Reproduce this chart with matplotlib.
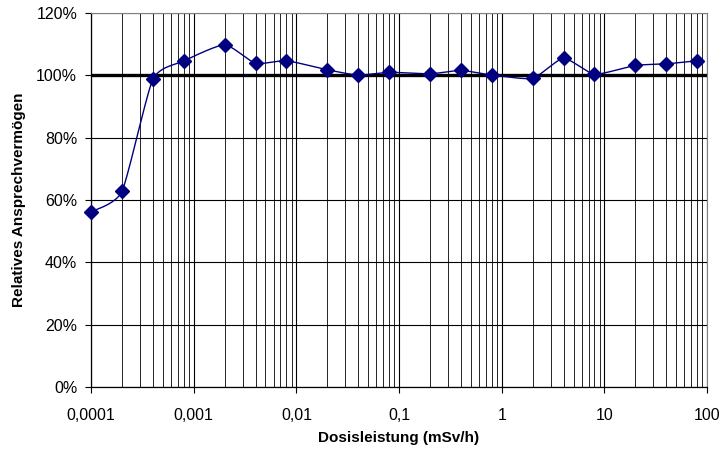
import numpy as np
import matplotlib
matplotlib.use("Agg")
import matplotlib.pyplot as plt
from matplotlib.ticker import FixedLocator, FixedFormatter, LogLocator, NullFormatter

plt.rcParams['font.family'] = ['Liberation Sans', 'DejaVu Sans']

# Dose rate (mSv/h) and relative response (%)
dose_rate = [0.0001, 0.0002, 0.0004, 0.0008, 0.002, 0.004, 0.008, 0.02, 0.04,
             0.08, 0.2, 0.4, 0.8, 2, 4, 8, 20, 40, 80]
response = [56.2, 62.8, 98.7, 104.6, 109.8, 103.9, 104.7, 101.8, 100.1,
            101.0, 100.5, 101.6, 100.1, 99.1, 105.5, 100.4, 103.2, 103.7, 104.7]

x_ticks = [0.0001, 0.001, 0.01, 0.1, 1, 10, 100]
x_tick_labels = ['0,0001', '0,001', '0,01', '0,1', '1', '10', '100']
y_ticks = [0, 20, 40, 60, 80, 100, 120]
y_tick_labels = ['0%', '20%', '40%', '60%', '80%', '100%', '120%']
reference_level = 100

navy = '#000080'


def smooth_path(xs, ys, steps=24):
    """Cardinal-spline curve through the points, in log10(x) space."""
    u = np.log10(np.asarray(xs, float))
    v = np.asarray(ys, float)
    pu = np.concatenate([[u[0]], u, [u[-1]]])
    pv = np.concatenate([[v[0]], v, [v[-1]]])
    out_u, out_v = [], []
    t = np.linspace(0, 1, steps, endpoint=False)
    for i in range(1, len(pu) - 2):
        p0u, p1u, p2u, p3u = pu[i - 1:i + 3]
        p0v, p1v, p2v, p3v = pv[i - 1:i + 3]
        m1u, m2u = (p2u - p0u) / 2 * 0.6, (p3u - p1u) / 2 * 0.6
        m1v, m2v = (p2v - p0v) / 2 * 0.6, (p3v - p1v) / 2 * 0.6
        h00 = 2 * t**3 - 3 * t**2 + 1
        h10 = t**3 - 2 * t**2 + t
        h01 = -2 * t**3 + 3 * t**2
        h11 = t**3 - t**2
        out_u.append(h00 * p1u + h10 * m1u + h01 * p2u + h11 * m2u)
        out_v.append(h00 * p1v + h10 * m1v + h01 * p2v + h11 * m2v)
    out_u.append([u[-1]])
    out_v.append([v[-1]])
    return 10 ** np.concatenate(out_u), np.concatenate(out_v)


fig = plt.figure(figsize=(7.23, 4.51), dpi=100)
ax = fig.add_axes([0.1259, 0.142, 0.8521, 0.829])

ax.set_xscale('log')
ax.set_xlim(0.0001, 100)
ax.set_ylim(0, 120)

# grid: every decade subdivision vertically, 20 % steps horizontally
ax.xaxis.set_major_locator(FixedLocator(x_ticks))
ax.xaxis.set_major_formatter(FixedFormatter(x_tick_labels))
ax.xaxis.set_minor_locator(LogLocator(base=10, subs=np.arange(2, 10)))
ax.xaxis.set_minor_formatter(NullFormatter())
ax.yaxis.set_major_locator(FixedLocator(y_ticks))
ax.yaxis.set_major_formatter(FixedFormatter(y_tick_labels))

ax.grid(True, which='major', axis='both', color='black', linewidth=0.8)
ax.grid(True, which='minor', axis='x', color='black', linewidth=0.6)
ax.set_axisbelow(True)

ax.axhline(reference_level, color='black', linewidth=2.4, zorder=2)

sx, sy = smooth_path(dose_rate, response)
ax.plot(sx, sy, color=navy, linewidth=1.0, zorder=3)
ax.plot(dose_rate, response, linestyle='none', marker='D', markersize=7,
        color=navy, zorder=4, clip_on=False)

for side in ('top', 'right'):
    ax.spines[side].set_color('#808080')
for side in ('left', 'bottom'):
    ax.spines[side].set_color('black')
    ax.spines[side].set_linewidth(0.9)

ax.tick_params(axis='both', which='major', direction='out', length=4,
               width=0.8, labelsize=11.5, colors='black')
ax.tick_params(axis='y', which='major', pad=6)
ax.tick_params(axis='x', which='major', pad=11)
ax.tick_params(axis='x', which='minor', length=0)

ax.set_xlabel('Dosisleistung (mSv/h)', fontsize=11, fontweight='bold', labelpad=6)
ax.set_ylabel('Relatives Ansprechvermögen', fontsize=11, fontweight='bold', labelpad=7)

fig.savefig('out.png', dpi=100)
